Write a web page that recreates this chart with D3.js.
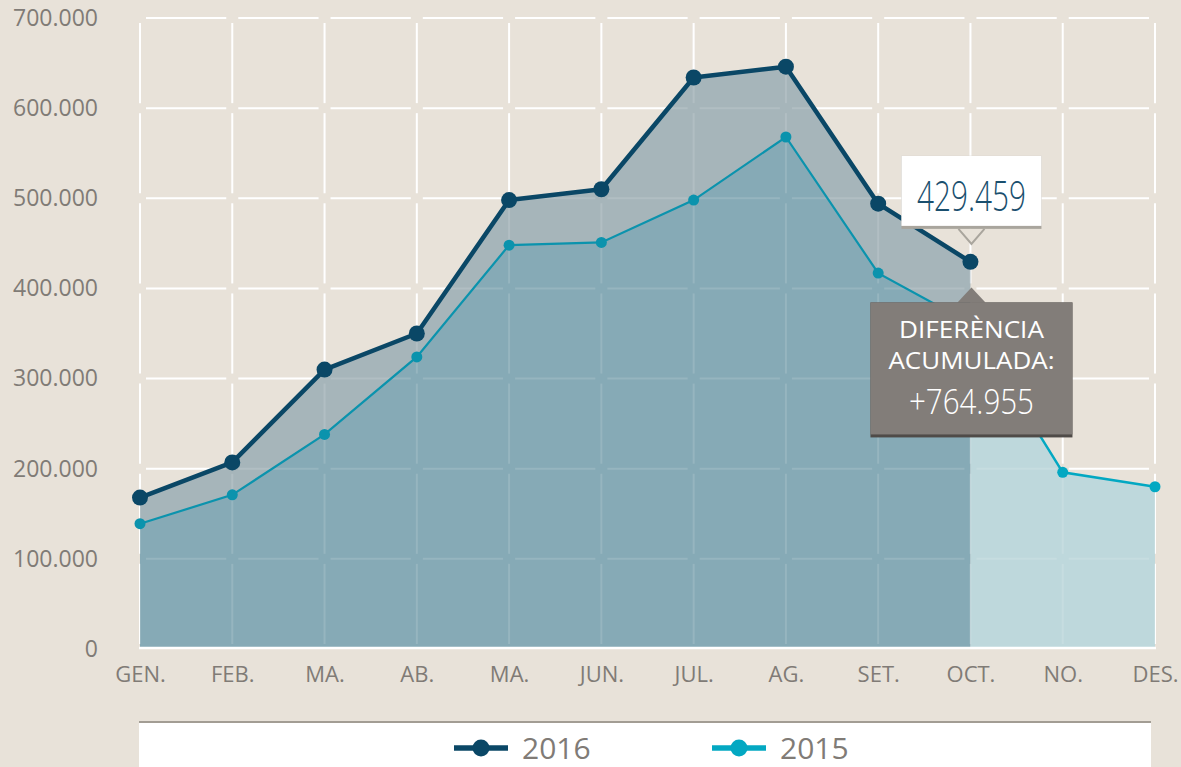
<!DOCTYPE html>
<html lang="ca">
<head>
<meta charset="UTF-8">
<title>Evolució mensual 2016 - 2015</title>
<style>
  body { margin: 0; background: #e8e2d9; }
  svg { display: block; font-family: "Open Sans", sans-serif; }
  .tick text { fill: #807b76; font-family: "Open Sans", sans-serif; font-size: 22px; }
  .eixY .tick text { font-size: 23px; }
  .grid line { stroke: #fff; stroke-width: 2; }
</style>
</head>
<body>
<svg id="chart" width="1181" height="767"></svg>
<script src="https://d3js.org/d3.v7.min.js"></script>
<script>
// dades
const mesos = ["GEN.", "FEB.", "MA.", "AB.", "MA.", "JUN.", "JUL.", "AG.", "SET.", "OCT.", "NO.", "DES."];
const valors2016 = [168000, 207000, 310000, 350000, 498000, 510000, 634000, 646000, 494000, 429459];
const valors2015 = [139000, 171000, 238000, 324000, 448000, 451000, 498000, 568000, 417000, 361000, 196000, 180000];
const ticksY = [0, 100000, 200000, 300000, 400000, 500000, 600000, 700000];
const series = ["2016", "2015"];
const etiquetaUltim = "429.459";
const etiquetaDif = ["DIFERÈNCIA", "ACUMULADA:", "+764.955"];

const svg = d3.select("#chart");
const x = d3.scaleLinear().domain([0, 11]).range([140, 1155]);
const y = d3.scaleLinear().domain([0, 700000]).range([649, 18]);
const fmt = d3.formatLocale({ decimal: ",", thousands: ".", grouping: [3], currency: ["", "€"] }).format(",d");

// graella amb talls a les interseccions
function graella(g) {
  ticksY.slice(1).forEach(t => {
    d3.range(11).forEach(i => {
      g.append("line").attr("x1", x(i) + 6).attr("x2", x(i + 1) - 6).attr("y1", y(t)).attr("y2", y(t));
    });
  });
  d3.range(12).forEach(i => {
    d3.range(7).forEach(j => {
      g.append("line").attr("x1", x(i)).attr("x2", x(i))
        .attr("y1", y(ticksY[j + 1]) + 5).attr("y2", y(ticksY[j]) - 5);
    });
  });
}
graella(svg.append("g").attr("class", "grid"));

// arees
const area = d3.area().x(d => x(d.i)).y0(y(0) - 1).y1(d => y(d.v));
const punts = arr => arr.map((v, i) => ({ i: i, v: v }));
const p2016 = punts(valors2016);
const p2015 = punts(valors2015);

svg.append("path").attr("d", area(p2016)).attr("fill", "#a6b5ba");
svg.append("path").attr("d", area(p2015.slice(0, 10))).attr("fill", "#86aab6");
svg.append("path").attr("d", area(p2015.slice(9))).attr("fill", "#bed8dc");

// graella tènue a sobre de les arees
graella(svg.append("g").attr("class", "grid").attr("opacity", 0.13));

svg.append("line")
  .attr("x1", x(0) - 1).attr("x2", x(11) + 1).attr("y1", y(0) - 1).attr("y2", y(0) - 1)
  .attr("stroke", "#fff").attr("stroke-width", 2.5);

// eixos
const eixY = svg.append("g").attr("class", "eixY").attr("transform", `translate(${x(0)},0)`)
  .call(d3.axisLeft(y).tickValues(ticksY).tickFormat(fmt).tickSize(0).tickPadding(42));
eixY.select(".domain").remove();
eixY.attr("font-family", null).attr("font-size", null);

const eixX = svg.append("g").attr("transform", `translate(0,${y(0) - 1})`)
  .call(d3.axisBottom(x).tickValues(d3.range(12)).tickFormat(i => mesos[i]).tickSize(0).tickPadding(18));
eixX.select(".domain").remove();
eixX.attr("font-family", null).attr("font-size", null);

// linies
const linia = d3.line().x(d => x(d.i)).y(d => y(d.v));
svg.append("path").attr("d", linia(p2015.slice(0, 10)))
  .attr("fill", "none").attr("stroke", "#0b93ad").attr("stroke-width", 2.2);
svg.append("path").attr("d", linia(p2015.slice(9)))
  .attr("fill", "none").attr("stroke", "#03a8c2").attr("stroke-width", 2.5);
svg.selectAll(".dot2015").data(p2015).enter().append("circle")
  .attr("cx", d => x(d.i)).attr("cy", d => y(d.v)).attr("r", 5.5)
  .attr("fill", d => d.i > 9 ? "#03a8c2" : "#0b93ad");

svg.append("path").attr("d", linia(p2016))
  .attr("fill", "none").attr("stroke", "#0a4766").attr("stroke-width", 4.5).attr("stroke-linejoin", "round");
svg.selectAll(".dot2016").data(p2016).enter().append("circle")
  .attr("cx", d => x(d.i)).attr("cy", d => y(d.v)).attr("r", 8).attr("fill", "#0a4766");

// etiqueta ultim valor
const ux = x(9) + 1, uy = y(valors2016[9]) - 18;
const et = svg.append("g");
et.append("path").attr("d", `M${ux - 13},${uy - 15}L${ux},${uy}L${ux + 13},${uy - 15}`)
  .attr("fill", "#e8e2d9").attr("stroke", "#a9a59d").attr("stroke-width", 2);
et.append("rect").attr("x", ux - 70).attr("y", uy - 88).attr("width", 140).attr("height", 73).attr("fill", "#a9a59d");
et.append("rect").attr("x", ux - 70).attr("y", uy - 88).attr("width", 140).attr("height", 70).attr("fill", "#fff");
et.append("text").attr("x", ux).attr("y", uy - 33).attr("text-anchor", "middle")
  .attr("textLength", 109).attr("lengthAdjust", "spacingAndGlyphs")
  .style("font-size", "42px").style("font-weight", 350).attr("fill", "#1a4f6e").text(etiquetaUltim);

// caixa diferencia acumulada
const dx = x(9) + 1, dy = y(400000) - 1;
const caixa = svg.append("g");
caixa.append("path").attr("d", `M${dx - 14},${dy + 15}L${dx},${dy}L${dx + 14},${dy + 15}Z`).attr("fill", "#827d79");
caixa.append("rect").attr("x", dx - 101).attr("y", dy + 15).attr("width", 202).attr("height", 135).attr("fill", "#4f4b48");
caixa.append("rect").attr("x", dx - 101).attr("y", dy + 15).attr("width", 202).attr("height", 132).attr("fill", "#827d79");
caixa.append("text").attr("x", dx).attr("y", dy + 51).attr("text-anchor", "middle")
  .attr("textLength", 145).attr("lengthAdjust", "spacingAndGlyphs")
  .style("font-size", "23px").attr("fill", "#fff").text(etiquetaDif[0]);
caixa.append("text").attr("x", dx).attr("y", dy + 82).attr("text-anchor", "middle")
  .attr("textLength", 166).attr("lengthAdjust", "spacingAndGlyphs")
  .style("font-size", "23px").attr("fill", "#fff").text(etiquetaDif[1]);
caixa.append("text").attr("x", dx).attr("y", dy + 127).attr("text-anchor", "middle")
  .attr("textLength", 125).attr("lengthAdjust", "spacingAndGlyphs")
  .style("font-size", "35px").style("font-weight", 300).attr("fill", "#fff").text(etiquetaDif[2]);

// llegenda
const lleg = svg.append("g");
lleg.append("rect").attr("x", 139).attr("y", 722).attr("width", 1012).attr("height", 45).attr("fill", "#fff");
lleg.append("line").attr("x1", 139).attr("x2", 1151).attr("y1", 722).attr("y2", 722)
  .attr("stroke", "#a29d94").attr("stroke-width", 2);
const colors = d3.scaleOrdinal().domain(series).range(["#0a4766", "#03a8c2"]);
const item = lleg.selectAll(".item").data(series).enter().append("g")
  .attr("transform", (d, i) => `translate(${454 + i * 258},748)`);
item.append("line").attr("x1", 0).attr("x2", 54).attr("stroke", colors).attr("stroke-width", 5.5);
item.append("circle").attr("cx", 27).attr("r", 8.5).attr("fill", colors);
item.append("text").attr("x", 68).attr("y", 11).style("font-size", "30px").attr("fill", "#807b76").text(d => d);
</script>
</body>
</html>
